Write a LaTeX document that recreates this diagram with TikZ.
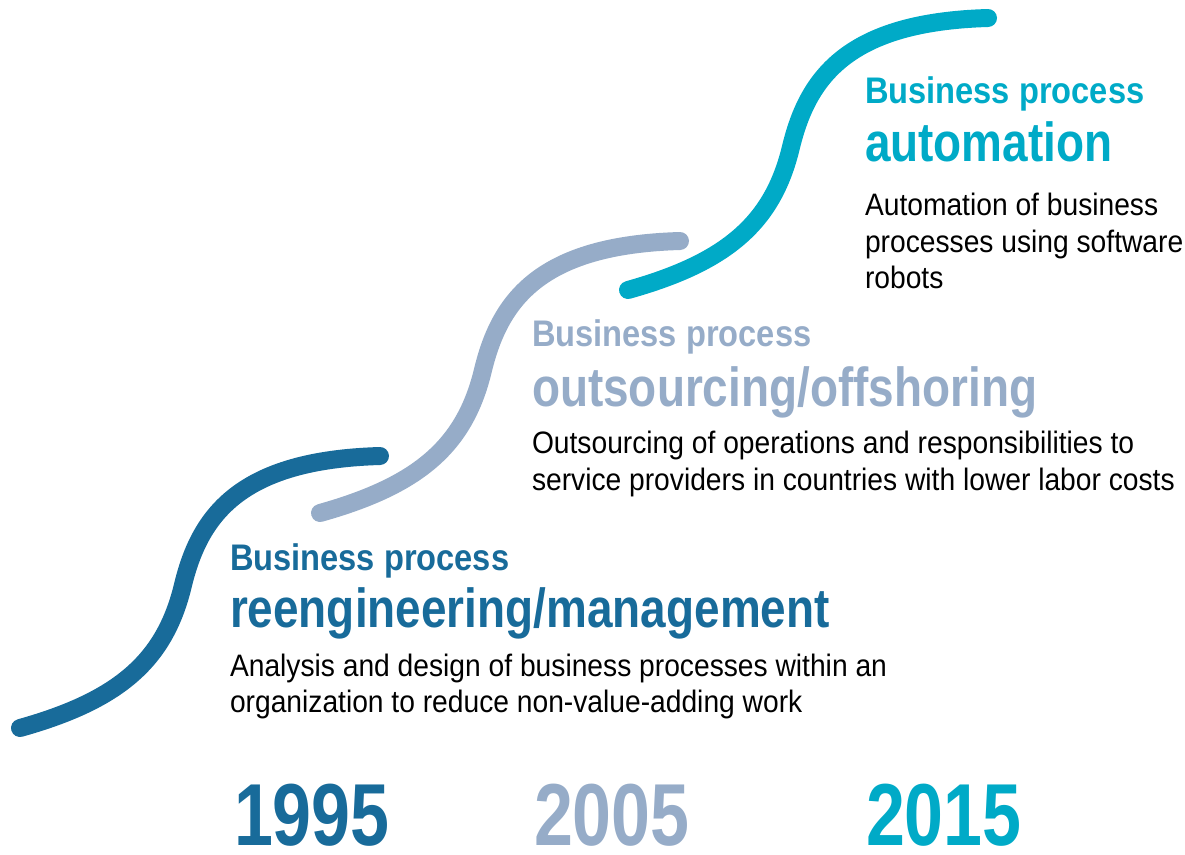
\documentclass[tikz,border=0pt]{standalone}
\usepackage{fontspec}
\setmainfont{Liberation Sans}
\newfontfamily\headfont[FakeStretch=0.882]{Liberation Sans}
\newfontfamily\titlefont[FakeStretch=0.835]{Liberation Sans}
\newfontfamily\bodyfont[FakeStretch=0.91]{Liberation Sans}
\newfontfamily\yearfont[FakeStretch=0.795]{Liberation Sans}
\definecolor{bpmblue}{HTML}{186B9A}
\definecolor{bpogrey}{HTML}{96ACC8}
\definecolor{bpacyan}{HTML}{00AAC7}
\begin{document}
\begin{tikzpicture}[x=1pt,y=-1pt,
  wave/.style={line width=18pt, line cap=round},
  txt/.style={anchor=base west, inner sep=0pt, outer sep=0pt},
  head/.style={txt, font=\headfont\bfseries\fontsize{37}{40}\selectfont},
  title/.style={txt, font=\titlefont\bfseries\fontsize{55}{60}\selectfont},
  body/.style={txt, text=black, font=\bodyfont\fontsize{31}{36}\selectfont},
  year/.style={txt, font=\yearfont\bfseries\fontsize{88}{90}\selectfont}]
\useasboundingbox (0,0) rectangle (1185,854);

% three rising S-shaped steps
\foreach \dx/\dy/\col in {0/0/bpmblue, 300/-215/bpogrey, 608/-438/bpacyan}
  \draw[wave, \col, shift={(\dx,\dy)}]
    (20,728) .. controls (120,700) and (165,660) .. (183,585)
             .. controls (200,515) and (240,460) .. (380,456);

% 1995: reengineering / management
\node[head, text=bpmblue]  (h1) at (230,570) {Business process};
\node[title, text=bpmblue] (t1) at (230,627) {reengineering/management};
\node[body] (d1a) at (230,676) {Analysis and design of business processes within an};
\node[body] (d1b) at (230,712) {organization to reduce non-value-adding work};

% 2005: outsourcing / offshoring
\node[head, text=bpogrey]  (h2) at (532,346) {Business process};
\node[title, text=bpogrey] (t2) at (532,406) {outsourcing/offshoring};
\node[body] (d2a) at (532,453) {Outsourcing of operations and responsibilities to};
\node[body] (d2b) at (532,490) {service providers in countries with lower labor costs};

% 2015: automation
\node[head, text=bpacyan]  (h3) at (865,103) {Business process};
\node[title, text=bpacyan] (t3) at (865,161) {automation};
\node[body] (d3a) at (865,215) {Automation of business};
\node[body] (d3b) at (865,252) {processes using software};
\node[body] (d3c) at (865,288) {robots};

% years
\node[year, text=bpmblue] (y1) at (234,845) {1995};
\node[year, text=bpogrey] (y2) at (534,845) {2005};
\node[year, text=bpacyan] (y3) at (866,845) {2015};
\end{tikzpicture}
\end{document}
